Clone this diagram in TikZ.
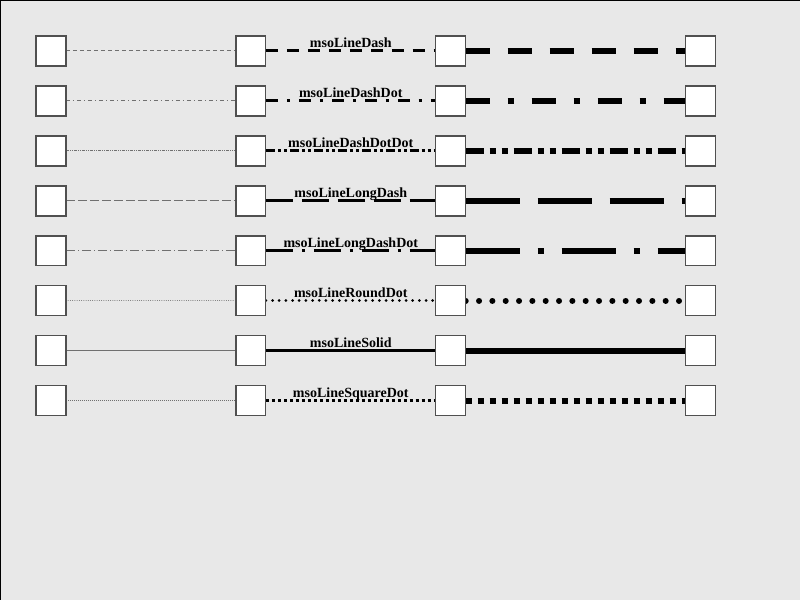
\documentclass[tikz,border=0pt]{standalone}
\usepackage{fontspec}
\setmainfont{Liberation Serif}
\pgfdeclarelayer{back}
\pgfdeclarelayer{lines}
\pgfsetlayers{back,lines,main}
\begin{document}
\begin{tikzpicture}[x=1pt,y=-1pt,
  box/.style={draw=boxgray,fill=white,line width=1.3pt,minimum size=30pt,inner sep=0pt,outer sep=0pt},
  wa/.style={draw=linegray,line width=1pt},
  wb/.style={draw=black,line width=3pt},
  wc/.style={draw=black,line width=6pt},
  lbl/.style={font=\fontsize{14}{14}\selectfont\bfseries,anchor=base,inner sep=0pt}]
\definecolor{boxgray}{HTML}{505050}
\definecolor{linegray}{HTML}{707070}
\definecolor{bg}{HTML}{E8E8E8}
\begin{pgfonlayer}{back}
\fill[bg] (0,0) rectangle (800,600);
\draw[black,line width=1pt] (0.5,600) -- (0.5,0.5) -- (800,0.5);
\end{pgfonlayer}
\useasboundingbox (0,0) rectangle (800,600);

\foreach \r in {1,...,8}{
  \pgfmathsetmacro{\yy}{1+50*\r}
  \node[box] (a\r) at (51,\yy) {};
  \node[box] (b\r) at (251,\yy) {};
  \node[box] (c\r) at (451,\yy) {};
  \node[box] (d\r) at (701,\yy) {};
}

\begin{pgfonlayer}{lines}
% row 1 Dash
\draw[wa,dash pattern=on 4pt off 3pt] (a1.east) -- (b1.west);
\draw[wb,dash pattern=on 12pt off 9pt] (b1.east) -- (c1.west);
\draw[wc,dash pattern=on 24pt off 18pt] (c1.east) -- (d1.west);
% row 2 DashDot
\draw[wa,dash pattern=on 4pt off 3pt on 1pt off 3pt] (a2.east) -- (b2.west);
\draw[wb,dash pattern=on 12pt off 9pt on 3pt off 9pt] (b2.east) -- (c2.west);
\draw[wc,dash pattern=on 24pt off 18pt on 6pt off 18pt] (c2.east) -- (d2.west);
% row 3 DashDotDot
\draw[wa,dash pattern=on 3pt off 1pt on 1pt off 1pt on 1pt off 1pt] (a3.east) -- (b3.west);
\draw[wb,dash pattern=on 9pt off 3pt on 3pt off 3pt on 3pt off 3pt] (b3.east) -- (c3.west);
\draw[wc,dash pattern=on 18pt off 6pt on 6pt off 6pt on 6pt off 6pt] (c3.east) -- (d3.west);
% row 4 LongDash
\draw[wa,dash pattern=on 9pt off 3pt] (a4.east) -- (b4.west);
\draw[wb,dash pattern=on 27pt off 9pt] (b4.east) -- (c4.west);
\draw[wc,dash pattern=on 54pt off 18pt] (c4.east) -- (d4.west);
% row 5 LongDashDot
\draw[wa,dash pattern=on 9pt off 3pt on 1pt off 3pt] (a5.east) -- (b5.west);
\draw[wb,dash pattern=on 27pt off 9pt on 3pt off 9pt] (b5.east) -- (c5.west);
\draw[wc,dash pattern=on 54pt off 18pt on 6pt off 18pt] (c5.east) -- (d5.west);
% row 6 RoundDot
\draw[wa,line cap=round,dash pattern=on 0.01pt off 2.22pt] (a6.east) -- (b6.west);
\draw[wb,line cap=round,dash pattern=on 0.01pt off 6.67pt] (b6.east) -- (c6.west);
\draw[wc,line cap=round,dash pattern=on 0.01pt off 13.33pt] (c6.east) -- (d6.west);
% row 7 Solid
\draw[wa] (a7.east) -- (b7.west);
\draw[wb] (b7.east) -- (c7.west);
\draw[wc] (c7.east) -- (d7.west);
% row 8 SquareDot
\draw[wa,dash pattern=on 1pt off 1pt] (a8.east) -- (b8.west);
\draw[wb,dash pattern=on 3pt off 3pt] (b8.east) -- (c8.west);
\draw[wc,dash pattern=on 6pt off 6pt] (c8.east) -- (d8.west);
\end{pgfonlayer}

\node[lbl] (l1) at (351,47.5) {msoLineDash};
\node[lbl] (l2) at (351,97.5) {msoLineDashDot};
\node[lbl] (l3) at (351,147.5) {msoLineDashDotDot};
\node[lbl] (l4) at (351,197.5) {msoLineLongDash};
\node[lbl] (l5) at (351,247.5) {msoLineLongDashDot};
\node[lbl] (l6) at (351,297.5) {msoLineRoundDot};
\node[lbl] (l7) at (351,347.5) {msoLineSolid};
\node[lbl] (l8) at (351,397.5) {msoLineSquareDot};
\end{tikzpicture}
\end{document}
